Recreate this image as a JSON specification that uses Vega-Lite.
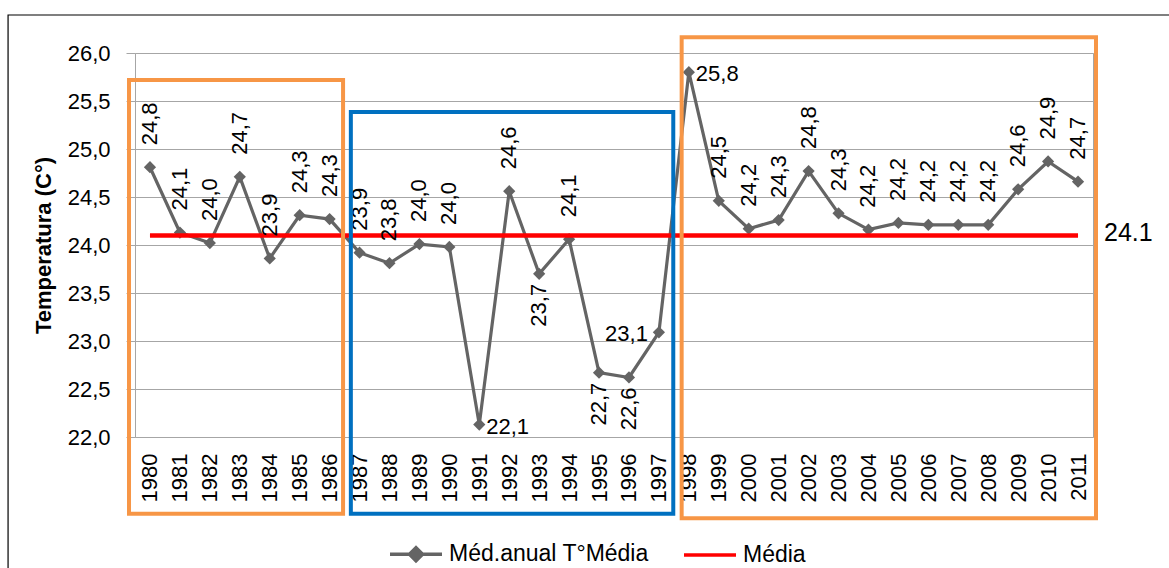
{
  "$schema": "https://vega.github.io/schema/vega-lite/v6.json",
  "width": 958,
  "height": 384,
  "autosize": "none",
  "padding": {"left": 135, "top": 53, "right": 76, "bottom": 131},
  "background": "white",
  "config": {
    "font": "Liberation Sans",
    "view": {"stroke": "#a6a6a6", "strokeWidth": 1},
    "axis": {"labelFont": "Liberation Sans", "titleFont": "Liberation Sans", "labelColor": "#000000", "titleColor": "#000000"}
  },
  "datasets": {
    "temperatura": [
      {"ano": 1980, "temp": 24.81, "media": 24.1},
      {"ano": 1981, "temp": 24.13, "media": 24.1},
      {"ano": 1982, "temp": 24.02, "media": 24.1},
      {"ano": 1983, "temp": 24.71, "media": 24.1},
      {"ano": 1984, "temp": 23.86, "media": 24.1},
      {"ano": 1985, "temp": 24.31, "media": 24.1},
      {"ano": 1986, "temp": 24.27, "media": 24.1},
      {"ano": 1987, "temp": 23.92, "media": 24.1},
      {"ano": 1988, "temp": 23.81, "media": 24.1},
      {"ano": 1989, "temp": 24.01, "media": 24.1},
      {"ano": 1990, "temp": 23.98, "media": 24.1},
      {"ano": 1991, "temp": 22.13, "media": 24.1},
      {"ano": 1992, "temp": 24.56, "media": 24.1},
      {"ano": 1993, "temp": 23.70, "media": 24.1},
      {"ano": 1994, "temp": 24.06, "media": 24.1},
      {"ano": 1995, "temp": 22.67, "media": 24.1},
      {"ano": 1996, "temp": 22.62, "media": 24.1},
      {"ano": 1997, "temp": 23.09, "media": 24.1},
      {"ano": 1998, "temp": 25.80, "media": 24.1},
      {"ano": 1999, "temp": 24.46, "media": 24.1},
      {"ano": 2000, "temp": 24.17, "media": 24.1},
      {"ano": 2001, "temp": 24.26, "media": 24.1},
      {"ano": 2002, "temp": 24.77, "media": 24.1},
      {"ano": 2003, "temp": 24.33, "media": 24.1},
      {"ano": 2004, "temp": 24.16, "media": 24.1},
      {"ano": 2005, "temp": 24.23, "media": 24.1},
      {"ano": 2006, "temp": 24.21, "media": 24.1},
      {"ano": 2007, "temp": 24.21, "media": 24.1},
      {"ano": 2008, "temp": 24.21, "media": 24.1},
      {"ano": 2009, "temp": 24.58, "media": 24.1},
      {"ano": 2010, "temp": 24.87, "media": 24.1},
      {"ano": 2011, "temp": 24.66, "media": 24.1}
    ],
    "quadros": [
      {"periodo": "1980–1986", "x1": 1979.30, "x2": 1986.45, "y1": 25.72, "y2": 21.20},
      {"periodo": "1987–1997", "x1": 1986.71, "x2": 1997.48, "y1": 25.385, "y2": 21.20},
      {"periodo": "1998–2011", "x1": 1997.76, "x2": 2011.60, "y1": 26.164, "y2": 21.153}
    ],
    "moldura": [
      {"x1": 1975.26, "x2": 2016.5, "y1": 26.396, "y2": 19.5}
    ]
  },
  "encoding": {
    "x": {
      "field": "ano", "type": "quantitative", "title": null,
      "scale": {"domain": [1979.5, 2011.5], "nice": false, "zero": false},
      "axis": {
        "values": [1980,1981,1982,1983,1984,1985,1986,1987,1988,1989,1990,1991,1992,1993,1994,1995,1996,1997,1998,1999,2000,2001,2002,2003,2004,2005,2006,2007,2008,2009,2010,2011],
        "format": "d", "labelAngle": 270, "labelFontSize": 22, "labelPadding": 16,
        "ticks": false, "tickSize": 0, "domain": false, "grid": false,
        "labelOverlap": false, "labelFlush": false, "labelBound": false
      }
    },
    "y": {
      "field": "temp", "type": "quantitative", "title": "Temperatura (C°)",
      "scale": {"domain": [22, 26], "nice": false, "zero": false},
      "axis": {
        "values": [22, 22.5, 23, 23.5, 24, 24.5, 25, 25.5, 26],
        "labelExpr": "replace(format(datum.value, '.1f'), '.', ',')",
        "labelFontSize": 22, "titleFontSize": 22, "titleFontWeight": "bold",
        "tickSize": 9, "tickColor": "#a6a6a6", "gridColor": "#a6a6a6", "gridWidth": 1,
        "domain": false, "labelPadding": 16, "titlePadding": 12
      }
    }
  },
  "layer": [
    {
      "data": {"name": "temperatura"},
      "mark": {"type": "line", "strokeWidth": 3.2, "point": {"shape": "diamond", "size": 150, "filled": true, "opacity": 1}},
      "encoding": {
        "color": {
          "datum": "Méd.anual T°Média", "type": "nominal",
          "scale": {"domain": ["Méd.anual T°Média", "Média"], "range": ["#646464", "#FF0000"]},
          "legend": {
            "title": null, "orient": "none", "legendX": 253, "legendY": 473,
            "direction": "horizontal", "labelFontSize": 23, "labelColor": "#000000",
            "labelFont": "Liberation Sans", "labelLimit": 400, "symbolSize": 2704,
            "symbolStrokeWidth": 3.5, "columnPadding": 28, "labelOffset": 5,
            "symbolType": "M-1,0H1",
            "encode": {
              "symbols": {
                "update": {
                  "shape": [
                    {"test": "datum.value === 'Média'", "value": "M-1,0H1"},
                    {"value": "M-1,0H1M-0.25,0L0,-0.25L0.25,0L0,0.25Z"}
                  ],
                  "fill": [
                    {"test": "datum.value === 'Média'", "value": "transparent"},
                    {"value": "#646464"}
                  ]
                }
              }
            }
          }
        }
      }
    },
    {
      "data": {"name": "temperatura"},
      "mark": {"type": "line", "strokeWidth": 4.5},
      "encoding": {
        "y": {"field": "media", "type": "quantitative", "title": "Temperatura (C°)"},
        "color": {"datum": "Média", "type": "nominal"}
      }
    },
    {
      "data": {"name": "temperatura"},
      "transform": [
        {"filter": {"not": {"field": "ano", "oneOf": [1991, 1993, 1995, 1996, 1997, 1998]}}},
        {"calculate": "replace(format(datum.temp, '.1f'), '.', ',')", "as": "rotulo"}
      ],
      "mark": {"type": "text", "angle": 270, "align": "left", "baseline": "middle", "dx": 22, "fontSize": 22, "color": "#000000", "font": "Liberation Sans"},
      "encoding": {"text": {"field": "rotulo", "type": "nominal"}}
    },
    {
      "data": {"name": "temperatura"},
      "transform": [
        {"filter": {"field": "ano", "oneOf": [1993, 1995, 1996]}},
        {"calculate": "replace(format(datum.temp, '.1f'), '.', ',')", "as": "rotulo"}
      ],
      "mark": {"type": "text", "angle": 270, "align": "right", "baseline": "middle", "dx": -10, "fontSize": 22, "color": "#000000", "font": "Liberation Sans"},
      "encoding": {"text": {"field": "rotulo", "type": "nominal"}}
    },
    {
      "data": {"name": "temperatura"},
      "transform": [
        {"filter": {"field": "ano", "oneOf": [1991, 1998]}},
        {"calculate": "replace(format(datum.temp, '.1f'), '.', ',')", "as": "rotulo"}
      ],
      "mark": {"type": "text", "align": "left", "baseline": "middle", "dx": 7, "dy": 2, "fontSize": 22, "color": "#000000", "font": "Liberation Sans"},
      "encoding": {"text": {"field": "rotulo", "type": "nominal"}}
    },
    {
      "data": {"name": "temperatura"},
      "transform": [
        {"filter": {"field": "ano", "oneOf": [1997]}},
        {"calculate": "replace(format(datum.temp, '.1f'), '.', ',')", "as": "rotulo"}
      ],
      "mark": {"type": "text", "align": "right", "baseline": "middle", "dx": -11, "dy": 2, "fontSize": 22, "color": "#000000", "font": "Liberation Sans"},
      "encoding": {"text": {"field": "rotulo", "type": "nominal"}}
    },
    {
      "data": {"name": "temperatura"},
      "transform": [{"filter": {"field": "ano", "equal": 2011}}],
      "mark": {"type": "text", "align": "left", "baseline": "middle", "dx": 26, "dy": -2, "fontSize": 25, "color": "#000000", "font": "Liberation Sans"},
      "encoding": {
        "y": {"field": "media", "type": "quantitative", "title": "Temperatura (C°)"},
        "text": {"field": "media", "type": "quantitative", "format": ".1f"}
      }
    },
    {
      "data": {"name": "quadros"},
      "mark": {"type": "rect", "filled": false, "strokeWidth": 4},
      "encoding": {
        "x": {"field": "x1", "type": "quantitative", "title": null},
        "x2": {"field": "x2"},
        "y": {"field": "y1", "type": "quantitative", "title": "Temperatura (C°)"},
        "y2": {"field": "y2"},
        "stroke": {
          "field": "periodo", "type": "nominal",
          "scale": {"domain": ["1980–1986", "1987–1997", "1998–2011"], "range": ["#F79646", "#0070C0", "#F79646"]},
          "legend": null
        }
      }
    },
    {
      "data": {"name": "moldura"},
      "mark": {"type": "rect", "filled": false, "stroke": "#000000", "strokeWidth": 1.2},
      "encoding": {
        "x": {"field": "x1", "type": "quantitative", "title": null},
        "x2": {"field": "x2"},
        "y": {"field": "y1", "type": "quantitative", "title": "Temperatura (C°)"},
        "y2": {"field": "y2"}
      }
    }
  ]
}
